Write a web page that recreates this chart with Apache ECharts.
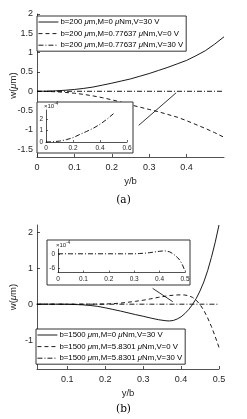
<!DOCTYPE html>
<html><head><meta charset="utf-8">
<script src="https://cdn.jsdelivr.net/npm/echarts@6/dist/echarts.min.js"></script>
<style>html,body{margin:0;padding:0;background:#fff}#c{width:247px;height:419px}</style>
</head><body><div id="c"></div>
<script>
// ---------- Panel (a) data ----------
const xA = [0,0.025,0.05,0.075,0.1,0.125,0.15,0.175,0.2,0.225,0.25,0.275,0.3,0.325,0.35,0.375,0.4,0.425,0.45,0.475,0.5];
const aSolid = [0,0.003,0.012,0.027,0.047,0.075,0.11,0.16,0.21,0.265,0.32,0.39,0.46,0.54,0.62,0.71,0.80,0.92,1.05,1.22,1.41];
const aDashed = [0,-0.003,-0.012,-0.028,-0.05,-0.08,-0.12,-0.165,-0.22,-0.28,-0.35,-0.41,-0.47,-0.53,-0.60,-0.67,-0.76,-0.86,-0.96,-1.07,-1.19];
const xAin = [0,0.05,0.1,0.15,0.2,0.25,0.3,0.35,0.4,0.45,0.5];
const aDashDotE4 = [0,0.02,0.08,0.2,0.38,0.66,0.92,1.2,1.55,1.98,2.48]; // x 1e-4
const namesA = ['b=200 μm,M=0 μNm,V=30 V','b=200 μm,M=0.77637 μNm,V=0 V','b=200 μm,M=0.77637 μNm,V=30 V'];
const yTicksA = [-1.5,-1,-0.5,0,0.5,1,1.5,2];
const xTicksA = [0,0.1,0.2,0.3,0.4];
const xTicksAin = [0,0.2,0.4,0.6];
const yTicksAin = [0,1,2];

// ---------- Panel (b) data ----------
const xB = [0.02,0.05,0.08,0.1,0.12,0.14,0.16,0.18,0.2,0.22,0.24,0.26,0.28,0.3,0.32,0.34,0.36,0.37,0.38,0.39,0.4,0.41,0.42,0.43,0.44,0.45,0.46,0.47,0.48,0.49,0.5];
const bSolid = [0,0,0,-0.003,-0.008,-0.018,-0.035,-0.06,-0.1,-0.145,-0.19,-0.24,-0.29,-0.335,-0.385,-0.43,-0.46,-0.465,-0.45,-0.41,-0.35,-0.26,-0.15,-0.01,0.16,0.37,0.62,0.93,1.3,1.72,2.2];
const bDashed = [0,0,0,0,0,0.001,0.002,0.003,0.005,0.015,0.03,0.055,0.08,0.11,0.15,0.19,0.225,0.24,0.25,0.257,0.26,0.255,0.235,0.19,0.11,-0.01,-0.17,-0.38,-0.62,-0.9,-1.2];
const xBin = [0,0.05,0.1,0.15,0.2,0.25,0.3,0.32,0.34,0.36,0.38,0.4,0.42,0.44,0.45,0.46,0.47,0.48,0.49,0.5];
const bDashDotE4 = [0,0,0,0,0,0,0,0.1,0.25,0.45,0.75,1.05,1.25,0.8,0.2,-0.6,-1.5,-2.7,-4.6,-7.2]; // x 1e-4
const namesB = ['b=1500 μm,M=0 μNm,V=30 V','b=1500 μm,M=5.8301 μNm,V=0 V','b=1500 μm,M=5.8301 μNm,V=30 V'];
const yTicksB = [-1,0,1,2];
const xTicksB = [0.1,0.2,0.3,0.4,0.5];
const xTicksBin = [0,0.1,0.2,0.3,0.4,0.5];
const yTicksBin = [-6,0];

// arrows (data coordinates of the main axes)
const arrowA = [[0.372,-0.04],[0.272,-0.88]];
const arrowB = [[0.378,0.07],[0.325,0.44]];

const pair = (xs, ys, k) => xs.map((x,i)=>[x, ys[i]*(k||1)]);
const FONT = 'Liberation Sans';
const AX = '#262626';
const DASHDOT = [5,2,1,2];

function mainX(idx, min, max, ticks) {
  return {gridIndex: idx, type:'value', min, max, z: 1,
    name: 'y/b', nameLocation:'middle', nameGap: 19,
    nameTextStyle:{fontFamily:FONT,fontSize:9.5,color:AX},
    axisLine:{show:true,onZero:false,lineStyle:{color:AX,width:0.8}},
    axisTick:{show:true,inside:true,length:3,customValues:ticks,lineStyle:{color:AX,width:0.8}},
    axisLabel:{customValues:ticks,fontFamily:FONT,fontSize:9,color:AX,margin:6,hideOverlap:false,showMinLabel:true,showMaxLabel:true},
    splitLine:{show:false}};
}
function mainY(idx, min, max, ticks) {
  return {gridIndex: idx, type:'value', min, max, z: 1,
    name: 'w({i|μ}m)', nameLocation:'middle', nameGap: 19, nameRotate: 90, nameMoveOverlap:false,
    nameTextStyle:{fontFamily:FONT,fontSize:9.5,color:AX,rich:{i:{fontStyle:'italic',fontFamily:FONT,fontSize:9.5,color:AX}}},
    axisLine:{show:true,onZero:false,lineStyle:{color:AX,width:0.8}},
    axisTick:{show:true,inside:true,length:3,customValues:ticks,lineStyle:{color:AX,width:0.8}},
    axisLabel:{customValues:ticks,fontFamily:FONT,fontSize:9,color:AX,margin:4,hideOverlap:false,showMinLabel:true,showMaxLabel:true,
      formatter:v=>String(v)},
    splitLine:{show:false}};
}
function insetX(idx, min, max, ticks) {
  return {gridIndex: idx, type:'value', min, max, z: 10,
    axisLine:{show:true,onZero:false,lineStyle:{color:AX,width:0.8}},
    axisTick:{show:true,inside:true,length:2,customValues:ticks,lineStyle:{color:AX,width:0.7}},
    axisLabel:{customValues:ticks,fontFamily:FONT,fontSize:6.5,color:AX,margin:3,hideOverlap:false,showMinLabel:true,showMaxLabel:true},
    splitLine:{show:false}};
}
function insetY(idx, min, max, ticks) {
  return {gridIndex: idx, type:'value', min, max, z: 10,
    name:'{b|×10}{s|-4}', nameLocation:'end', nameGap: 1,
    nameTextStyle:{align:'left', padding:[0,0,0,-2],
      rich:{b:{fontFamily:FONT,fontSize:6,color:AX,verticalAlign:'bottom',lineHeight:8},
            s:{fontFamily:FONT,fontSize:4.5,color:AX,verticalAlign:'top',lineHeight:8}}},
    axisLine:{show:true,onZero:false,lineStyle:{color:AX,width:0.8}},
    axisTick:{show:true,inside:true,length:2,customValues:ticks,lineStyle:{color:AX,width:0.7}},
    axisLabel:{customValues:ticks,fontFamily:FONT,fontSize:6.5,color:AX,margin:3,hideOverlap:false,showMinLabel:true,showMaxLabel:true},
    splitLine:{show:false}};
}
function line(name, data, xi, type, z, extra) {
  return Object.assign({type:'line', name, data, xAxisIndex:xi, yAxisIndex:xi, symbol:'none', showSymbol:false,
    z: z||2, clip:true, lineStyle:{color:'#000', width:0.9, type:type}, itemStyle:{color:'#000'}}, extra||{});
}
function arrow(pts) {
  return {silent:true, symbol:['none','arrow'], symbolSize:[0,8], animation:false,
    label:{show:false}, lineStyle:{color:'#000',width:0.8,type:'solid'},
    data:[[{coord:pts[0]},{coord:pts[1]}]]};
}
function legend(names, left, top) {
  return {data:names, orient:'vertical', left, top, itemWidth:20, itemHeight:8, itemGap:3.6,
    padding:[2,3,2,1], borderColor:'#000', borderWidth:0.8, backgroundColor:'#fff', selectedMode:false,
    itemStyle:{opacity:0, borderWidth:0},
    lineStyle:{width:0.9, color:'#000'},
    formatter: n => n.replace(/μ/g,'{i|μ}'),
    textStyle:{fontFamily:FONT,fontSize:7.8,color:'#000',padding:[0,0,0,-3],
      rich:{i:{fontStyle:'italic',fontFamily:FONT,fontSize:7.8,color:'#000'}}}};
}

const chart = echarts.init(document.getElementById('c'), null, {renderer:'canvas'});
chart.setOption({
  animation:false,
  backgroundColor:'#fff',
  title:[
    {text:'(a)', left:'center', top:190, textStyle:{fontFamily:'DejaVu Serif',fontSize:10.5,fontWeight:'normal',color:'#000'}},
    {text:'(b)', left:'center', top:399, textStyle:{fontFamily:'DejaVu Serif',fontSize:10.5,fontWeight:'normal',color:'#000'}}
  ],
  grid:[
    {left:32, top:14, width:192, height:143},
    {left:46, top:110, width:81, height:32, z:10},
    {left:31, top:225, width:188, height:144},
    {left:58, top:249, width:127, height:23.5, z:10}
  ],
  xAxis:[
    mainX(0, 0, 0.5, xTicksA),
    insetX(1, 0, 0.6, xTicksAin),
    mainX(2, 0.02, 0.5, xTicksB),
    insetX(3, 0, 0.5, xTicksBin)
  ],
  yAxis:[
    mainY(0, -1.7, 2, yTicksA),
    insetY(1, 0, 2.8, yTicksAin),
    mainY(2, -1.8, 2.2, yTicksB),
    insetY(3, -7.8, 2, yTicksBin)
  ],
  legend:[legend(namesA, 37, 16), legend(namesB, 36, 329)],
  graphic:[
    {type:'rect', shape:{x:37, y:102, width:96, height:51}, style:{fill:'#fff', stroke:'#333', lineWidth:1}, z:5},
    {type:'rect', shape:{x:47, y:240, width:143, height:45}, style:{fill:'#fff', stroke:'#333', lineWidth:1}, z:5}
  ],
  series:[
    line(namesA[0], pair(xA, aSolid), 0, 'solid', 2, {markLine: arrow(arrowA)}),
    line(namesA[1], pair(xA, aDashed), 0, [4,3]),
    line(namesA[2], pair(xAin, aDashDotE4, 1e-4), 0, DASHDOT),
    line('inset a', pair(xAin, aDashDotE4), 1, DASHDOT, 10),
    line(namesB[0], pair(xB, bSolid), 2, 'solid', 2, {markLine: arrow(arrowB)}),
    line(namesB[1], pair(xB, bDashed), 2, [4,3]),
    line(namesB[2], pair(xBin, bDashDotE4, 1e-4), 2, DASHDOT),
    line('inset b', pair(xBin, bDashDotE4), 3, DASHDOT, 10)
  ]
});
</script></body></html>
